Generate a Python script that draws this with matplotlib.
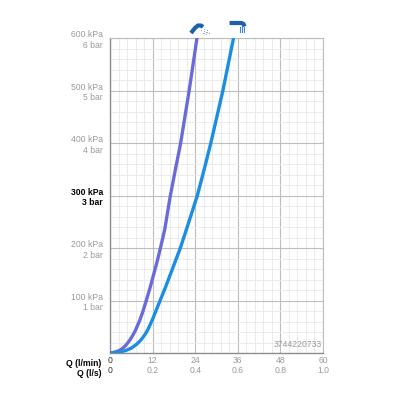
import matplotlib
matplotlib.use('Agg')
import matplotlib.pyplot as plt
from matplotlib.ticker import MultipleLocator

plt.rcParams['font.family'] = ['Liberation Sans', 'DejaVu Sans']

# dati
pressione = [0, 2, 5, 10, 17, 25, 35, 44, 63, 80, 100, 125, 150, 175, 200, 235,
             300, 349, 400, 450, 500, 550, 600]  # kPa
q_doccetta = [0, 1.3, 2.6, 3.7, 4.7, 5.6, 6.5, 7.2, 8.4, 9.3, 10.2, 11.3, 12.3, 13.3, 14.2, 15.4,
              17.0, 18.4, 19.9, 21.1, 22.3, 23.4, 24.5]  # l/min
q_soffione = [0, 2.5, 4.4, 6.1, 7.5, 8.7, 9.8, 10.6, 11.9, 12.9, 14.1, 15.6, 17.0, 18.4, 19.8, 21.5,
              24.6, 26.5, 28.4, 30.1, 31.8, 33.3, 34.8]  # l/min

y_ticks = [100, 200, 300, 400, 500, 600]
y_labels = ['100 kPa\n1 bar', '200 kPa\n2 bar', '300 kPa\n3 bar',
            '400 kPa\n4 bar', '500 kPa\n5 bar', '600 kPa\n6 bar']
x_ticks = [0, 12, 24, 36, 48, 60]
x_labels = ['0\n0', '12\n0.2', '24\n0.4', '36\n0.6', '48\n0.8', '60\n1.0']
codice = '3744220733'

col_viola = '#6a6bd8'
col_blu = '#1b8de2'
col_icona = '#1f5fae'
grigio = '#9a9a9a'
fs = 6.2

fig = plt.figure(figsize=(4, 4), dpi=100)
ax = fig.add_axes([0.275, 0.117, 0.5325, 0.788])

ax.plot(q_doccetta, pressione, color=col_viola, lw=2.4, solid_capstyle='butt', zorder=3)
ax.plot(q_soffione, pressione, color=col_blu, lw=2.4, solid_capstyle='butt', zorder=3)

ax.set_xlim(0, 60)
ax.set_ylim(0, 600)
ax.set_xticks(x_ticks)
ax.set_xticklabels(x_labels, fontsize=fs, color=grigio, linespacing=1.1)
ax.set_yticks(y_ticks)
ax.set_yticklabels(y_labels, fontsize=fs, color=grigio, linespacing=1.25, ha='right')
ax.xaxis.set_minor_locator(MultipleLocator(2.4))
ax.yaxis.set_minor_locator(MultipleLocator(20))

ax.grid(which='major', color='#bdbdbd', lw=0.8)
ax.grid(which='minor', color='#e8e8e8', lw=0.6)
ax.set_axisbelow(True)
ax.tick_params(which='both', length=0)
ax.tick_params(axis='x', pad=2)
ax.tick_params(axis='y', pad=5)

for s in ['top', 'right']:
    ax.spines[s].set_color('#bdbdbd')
    ax.spines[s].set_linewidth(0.8)
for s in ['left', 'bottom']:
    ax.spines[s].set_color('#8c8c8c')
    ax.spines[s].set_linewidth(1.0)

# 300 kPa in grassetto nero, 0 in nero
for lab in ax.get_yticklabels():
    if lab.get_text().startswith('300'):
        lab.set_color('black')
        lab.set_fontweight('bold')
ax.get_xticklabels()[0].set_color('#333333')

ax.text(-0.04, -0.018, 'Q (l/min)\nQ (l/s)', transform=ax.transAxes, ha='right', va='top',
        fontsize=fs, fontweight='bold', linespacing=1.1)
ax.text(0.995, 0.012, codice, transform=ax.transAxes, ha='right', va='bottom',
        fontsize=fs, color=grigio)

# icone in cima alle curve
tr = ax.transData
inv = fig.transFigure.inverted()


def fpt(dx, dy, bx, by):
    return inv.transform((bx + dx, by + dy))


# doccetta
px, py = tr.transform((q_doccetta[-1], pressione[-1]))
pts = [fpt(-6, 5, px, py), fpt(-2, 10, px, py), fpt(1, 12.5, px, py), fpt(4, 12.5, px, py), fpt(6, 11, px, py)]
fig.lines.append(plt.Line2D([p[0] for p in pts], [p[1] for p in pts], transform=fig.transFigure,
                            color=col_icona, lw=3.0, solid_capstyle='butt'))
for i in range(4):
    for j in range(4):
        if (i + j) % 2 == 0:
            c = fpt(4 + i * 1.5 + j * 1.2, 9 - j * 1.5 + i * 0.4 - 2, px, py)
            fig.patches.append(plt.Rectangle(c, 0.003, 0.003, transform=fig.transFigure,
                                             color='#8aaad8', lw=0))

# soffione
qx, qy = tr.transform((q_soffione[-1], pressione[-1]))
pts = [fpt(-4, 15, qx, qy), fpt(8, 15, qx, qy), fpt(10, 14, qx, qy), fpt(11, 11.5, qx, qy)]
fig.lines.append(plt.Line2D([p[0] for p in pts], [p[1] for p in pts], transform=fig.transFigure,
                            color=col_icona, lw=3.0, solid_capstyle='butt'))
for k in range(3):
    a = fpt(6 + k * 2.2, 11, qx, qy)
    b = fpt(6 + k * 2.2, 6, qx, qy)
    fig.lines.append(plt.Line2D([a[0], b[0]], [a[1], b[1]], transform=fig.transFigure,
                                color='#3f86d6', lw=0.8))

fig.savefig('out.png', dpi=100)
